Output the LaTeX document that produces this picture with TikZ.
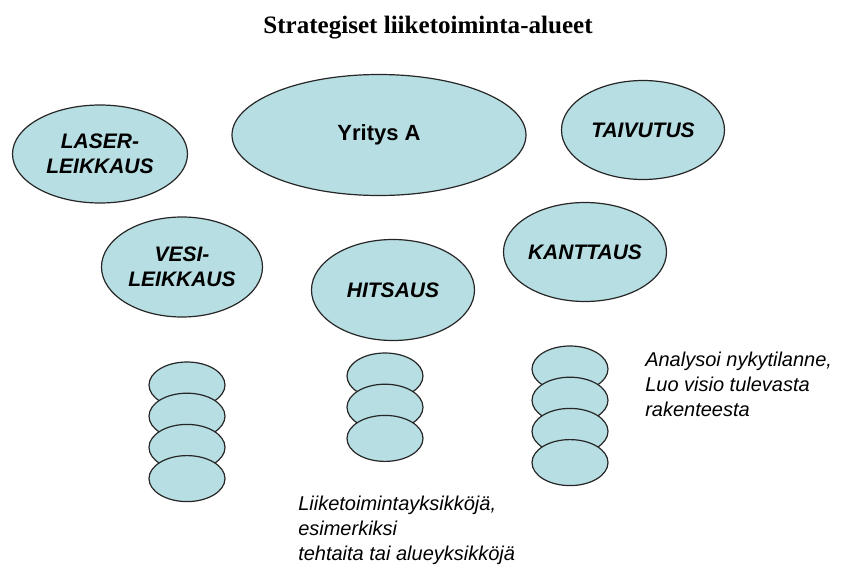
\documentclass[tikz,border=0pt]{standalone}
\usepackage{fontspec}
\setmainfont{Liberation Sans}
\newfontfamily\titlefont{Liberation Serif}
\usetikzlibrary{positioning,shapes.geometric}

\definecolor{bubble}{RGB}{183,222,226}

\begin{document}
\begin{tikzpicture}[
    x=0.75pt, y=-0.75pt,
    node distance=-12pt,
    area/.style={ellipse, draw=black!85, fill=bubble, line width=0.9pt, inner sep=0pt, align=center,
      minimum width=122.25pt, minimum height=74.25pt,
      font=\fontsize{15.75}{18.75}\selectfont\bfseries\itshape},
    unit/.style={ellipse, draw=black!85, fill=bubble, line width=0.9pt, minimum width=57pt, minimum height=34.5pt},
    note/.style={align=left, inner sep=0pt, anchor=north west, font=\fontsize{15}{18.75}\selectfont\itshape}
  ]
    \useasboundingbox (0,0) rectangle (844,568);

    \node[font=\titlefont\bfseries\fontsize{18.8}{22}\selectfont, anchor=base] (title) at (428,33) {Strategiset liiketoiminta-alueet};

    \node[area, minimum width=131.25pt, minimum height=73.5pt] (laser) at (100,154) {LASER-\\LEIKKAUS};
    \node[area, minimum width=220.5pt, minimum height=90.75pt, font=\fontsize{16.5}{20}\selectfont\bfseries] (yritys) at (379,135) {Yritys A};
    \node[area] (taivutus) at (643,130) {TAIVUTUS};
    \node[area, minimum width=120.75pt, minimum height=75pt] (vesi) at (182,267) {VESI-\\LEIKKAUS};
    \node[area] (kanttaus) at (585,252) {KANTTAUS};
    \node[area, minimum height=75.75pt] (hitsaus) at (393,290) {HITSAUS};

    % yksikot
    \node[unit] (l1) at (187,385) {};
    \node[unit, below=of l1] (l2) {};
    \node[unit, below=of l2] (l3) {};
    \node[unit, below=of l3] (l4) {};

    \node[unit] (m1) at (385,376) {};
    \node[unit, below=of m1] (m2) {};
    \node[unit, below=of m2] (m3) {};

    \node[unit] (r1) at (570,369) {};
    \node[unit, below=of r1] (r2) {};
    \node[unit, below=of r2] (r3) {};
    \node[unit, below=of r3] (r4) {};

    \node[note] (analyysi) at (645,352) {Analysoi nykytilanne,\\Luo visio tulevasta\\rakenteesta};
    \node[note] (selite) at (298,496) {Liiketoimintayksikköjä,\\esimerkiksi\\tehtaita tai alueyksikköjä};
\end{tikzpicture}
\end{document}
